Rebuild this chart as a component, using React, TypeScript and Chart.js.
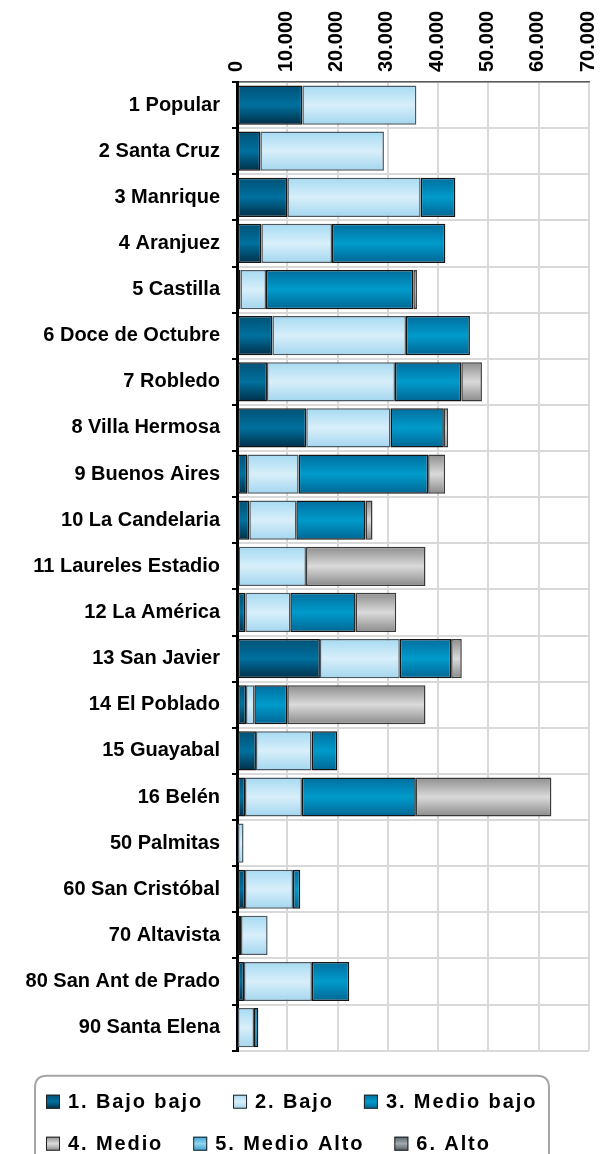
import React, { useEffect, useRef } from 'react';
import { Chart, registerables } from 'chart.js';

Chart.register(...registerables);

const categories = [
  '1 Popular',
  '2 Santa Cruz',
  '3 Manrique',
  '4 Aranjuez',
  '5 Castilla',
  '6 Doce de Octubre',
  '7 Robledo',
  '8 Villa Hermosa',
  '9 Buenos Aires',
  '10 La Candelaria',
  '11 Laureles Estadio',
  '12 La América',
  '13 San Javier',
  '14 El Poblado',
  '15 Guayabal',
  '16 Belén',
  '50 Palmitas',
  '60 San Cristóbal',
  '70 Altavista',
  '80 San Ant de Prado',
  '90 Santa Elena',
];

const seriesNames = [
  '1. Bajo bajo',
  '2. Bajo',
  '3. Medio bajo',
  '4. Medio',
  '5. Medio Alto',
  '6. Alto',
];

const bajoBajo = [13000, 4650, 10020, 4850, 680, 7040, 5960, 13770, 2050, 2450, 300, 1660, 16490, 1790, 3770, 1590, 200, 1590, 800, 1390, 200];
const bajo = [22670, 24570, 26500, 14040, 5090, 26560, 25450, 16760, 10200, 9340, 13410, 8940, 15890, 1650, 11060, 11320, 1100, 9540, 5290, 13510, 3180];
const medioBajo = [0, 0, 6900, 22540, 29300, 12720, 13200, 10600, 25760, 13770, 0, 12980, 10200, 6560, 5100, 22650, 0, 1450, 0, 7420, 860];
const medio = [0, 0, 0, 0, 720, 0, 4100, 860, 3380, 1390, 23770, 8080, 2120, 27480, 0, 26960, 0, 0, 0, 0, 0];
const medioAlto = [0, 0, 0, 0, 0, 0, 0, 0, 0, 0, 0, 0, 0, 0, 0, 0, 0, 0, 0, 0, 0];
const alto = [0, 0, 0, 0, 0, 0, 0, 0, 0, 0, 0, 0, 0, 0, 0, 0, 0, 0, 0, 0, 0];

const axisMin = 0;
const axisMax = 70000;
const axisStep = 10000;

// gradient stops: [edge-top, middle, edge-bottom]
const seriesGradients = [
  ['#005276', '#00709e', '#002f48'],
  ['#a6daf2', '#d8effa', '#a3d6ef'],
  ['#006e9e', '#009bcb', '#006694'],
  ['#8e8e8e', '#dadada', '#8a8a8a'],
  ['#38a6d6', '#92d4f0', '#35a0cf'],
  ['#56646c', '#a2aaae', '#4e5960'],
];
const seriesBorders = ['#141414', '#4b5963', '#141414', '#3a3a3a', '#2a4a5a', '#2a2a2a'];

const FONT_FAMILY = '"Liberation Sans", Arial, Helvetica, sans-serif';

function fmtThousands(v: number): string {
  return Math.round(v).toString().replace(/\B(?=(\d{3})+(?!\d))/g, '.');
}

function makeBg(seriesIndex: number) {
  return (ctx: any) => {
    const chart = ctx.chart;
    const stops = seriesGradients[seriesIndex];
    const yScale = chart.scales && chart.scales.y;
    if (!chart.chartArea || !yScale || ctx.dataIndex === undefined) return stops[1];
    const n = chart.data.labels.length;
    const band = (yScale.bottom - yScale.top) / n;
    const c = yScale.getPixelForValue(ctx.dataIndex);
    const h = (band * 0.85) / 2;
    const g = chart.ctx.createLinearGradient(0, c - h, 0, c + h);
    g.addColorStop(0, stops[0]);
    g.addColorStop(0.5, stops[1]);
    g.addColorStop(1, stops[2]);
    return g;
  };
}

const boxLegend = {
  id: 'boxLegend',
  afterDraw(chart: any) {
    const ctx = chart.ctx as CanvasRenderingContext2D;
    const area = chart.chartArea;
    const top = area.bottom + 25;
    ctx.save();
    // rounded frame
    const fx = 35, fw = 514, fh = 120, r = 12;
    ctx.beginPath();
    ctx.moveTo(fx + r, top);
    ctx.lineTo(fx + fw - r, top);
    ctx.quadraticCurveTo(fx + fw, top, fx + fw, top + r);
    ctx.lineTo(fx + fw, top + fh - r);
    ctx.quadraticCurveTo(fx + fw, top + fh, fx + fw - r, top + fh);
    ctx.lineTo(fx + r, top + fh);
    ctx.quadraticCurveTo(fx, top + fh, fx, top + fh - r);
    ctx.lineTo(fx, top + r);
    ctx.quadraticCurveTo(fx, top, fx + r, top);
    ctx.closePath();
    ctx.lineWidth = 2;
    ctx.strokeStyle = '#a6a6a6';
    ctx.stroke();

    ctx.font = 'bold 20px ' + FONT_FAMILY;
    (ctx as any).letterSpacing = '1.9px';
    ctx.textBaseline = 'middle';
    ctx.textAlign = 'left';
    const rows = [[0, 1, 2], [3, 4, 5]];
    const rowY = [top + 26, top + 68];
    const box = 14;
    rows.forEach((row, ri) => {
      let x = 46;
      const y = rowY[ri];
      row.forEach((i) => {
        const stops = seriesGradients[i];
        const g = ctx.createLinearGradient(0, y - box / 2, 0, y + box / 2);
        g.addColorStop(0, stops[0]);
        g.addColorStop(0.5, stops[1]);
        g.addColorStop(1, stops[2]);
        ctx.fillStyle = g;
        ctx.fillRect(x, y - box / 2, box, box);
        ctx.lineWidth = 1;
        ctx.strokeStyle = '#222';
        ctx.strokeRect(x + 0.5, y - box / 2 + 0.5, box - 1, box - 1);
        ctx.fillStyle = '#000';
        const tx = x + box + 8;
        const label = chart.data.datasets[i].label;
        ctx.fillText(label, tx, y + 1);
        x = tx + ctx.measureText(label).width + 30;
      });
    });
    ctx.restore();
  },
};

export default function App() {
  const canvasRef = useRef<HTMLCanvasElement | null>(null);

  useEffect(() => {
    document.body.style.margin = '0';
    document.body.style.overflow = 'hidden';
    const canvas = canvasRef.current;
    if (!canvas) return;
    const seriesValues = [bajoBajo, bajo, medioBajo, medio, medioAlto, alto];
    const chart = new Chart(canvas, {
      type: 'bar',
      data: {
        labels: categories,
        datasets: seriesValues.map((vals, i) => ({
          label: seriesNames[i],
          data: vals,
          backgroundColor: makeBg(i),
          borderColor: seriesBorders[i],
          borderWidth: 1.5,
          borderSkipped: false,
          barPercentage: 0.85,
          categoryPercentage: 1,
        })),
      },
      options: {
        indexAxis: 'y',
        responsive: false,
        animation: false,
        layout: { padding: { left: 0, right: 14, top: 0, bottom: 103.3 } },
        plugins: {
          legend: { display: false },
          tooltip: { enabled: false },
        },
        scales: {
          x: {
            position: 'top',
            stacked: true,
            min: axisMin,
            max: axisMax,
            afterFit: (scale: any) => {
              scale.height = 82;
            },
            ticks: {
              stepSize: axisStep,
              autoSkip: false,
              minRotation: 90,
              maxRotation: 90,
              padding: 10,
              labelOffset: 7,
              color: '#000',
              font: { family: FONT_FAMILY, size: 20, weight: 'bold', lineHeight: 0.4 },
              callback: (v: any) => fmtThousands(Number(v)),
            },
            grid: { color: '#d9d9d9', lineWidth: 2, drawTicks: false },
            border: { color: '#595959', width: 1.5 },
          },
          y: {
            stacked: true,
            afterFit: (scale: any) => {
              scale.width = 237;
            },
            ticks: {
              autoSkip: false,
              padding: 12,
              color: '#000',
              font: { family: FONT_FAMILY, size: 20, weight: 'bold' },
            },
            grid: {
              color: '#d9d9d9',
              lineWidth: 2,
              offset: true,
              tickColor: '#000',
              tickLength: 5,
              tickWidth: 2,
            },
            border: { color: '#000', width: 3 },
          },
        },
      },
      plugins: [boxLegend],
    });
    return () => chart.destroy();
  }, []);

  return (
    <div style={{ width: 603, height: 1154, position: 'relative' }}>
      <canvas ref={canvasRef} width={603} height={1154} style={{ display: 'block' }} />
    </div>
  );
}
